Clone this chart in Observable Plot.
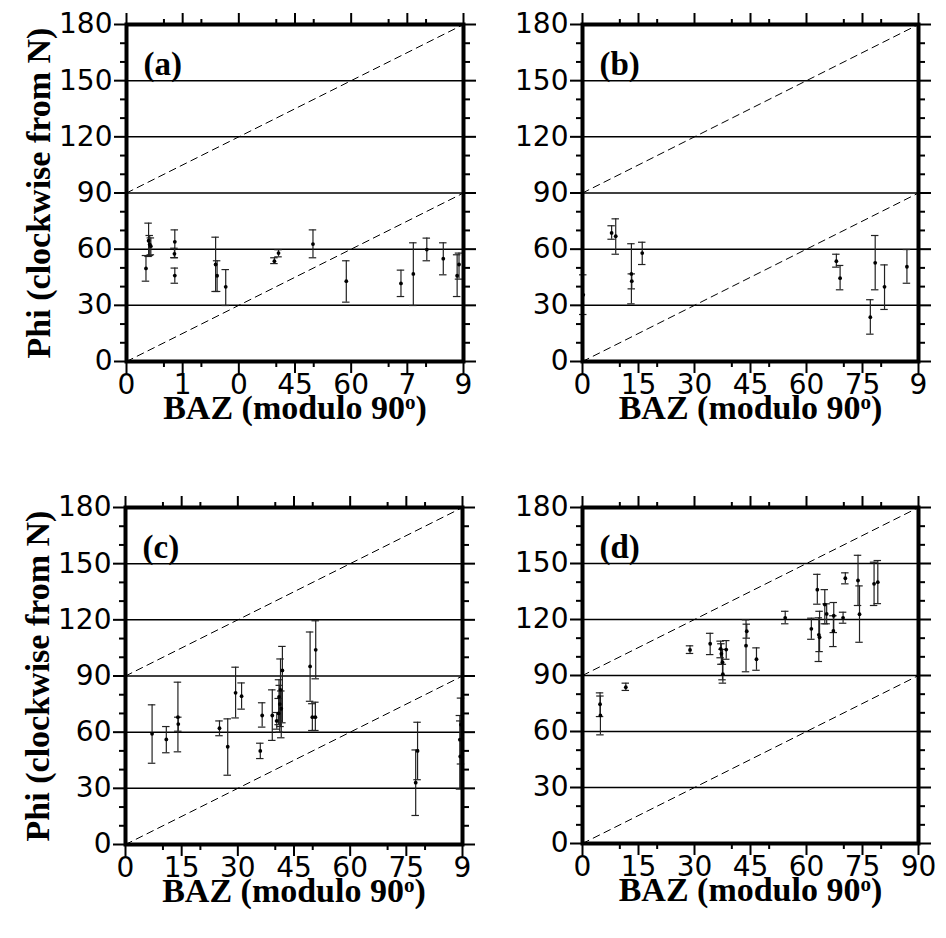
<!DOCTYPE html>
<html>
<head>
<meta charset="utf-8">
<script src="https://cdn.jsdelivr.net/npm/d3@7"></script>
<script src="https://cdn.jsdelivr.net/npm/@observablehq/plot@0.6"></script>
<style>
  html, body { margin: 0; padding: 0; background: white; }
  #chart { position: relative; width: 946px; height: 938px; overflow: hidden; background: white; }
</style>
</head>
<body>
<div id="chart"></div>
<script>
// ---- tick values and labels ----
const majorX = [0, 15, 30, 45, 60, 75, 90];
const minorX = [10, 20, 40, 50, 70, 80];
const majorY = [0, 30, 60, 90, 120, 150, 180];
const minorY = [10, 20, 40, 50, 70, 80, 100, 110, 130, 140, 160, 170];
const gridY = [30, 60, 90, 120, 150];
const labelsA = ["0", "1", "0", "45", "60", "7", "9"];
const labelsB = ["0", "15", "30", "45", "60", "75", "9"];
const labelsC = ["0", "15", "30", "45", "60", "75", "9"];
const labelsD = ["0", "15", "30", "45", "60", "75", "90"];
const yTitle = "Phi (clockwise from N)";
const xTitle = "BAZ (modulo 90º)";

// reference lines phi = baz and phi = baz + 90
const diagLower = [{baz: 0, phi: 0}, {baz: 90, phi: 90}];
const diagUpper = [{baz: 0, phi: 90}, {baz: 90, phi: 180}];

// ---- measurements: [BAZ, phi, phi low, phi high] ----
const panelA = [
  [5.2, 49.7, 42.9, 56.6],
  [5.9, 64.5, 56.1, 73.9],
  [6.2, 62.5, 56.6, 67.3],
  [6.5, 61.6, 57.0, 66.0],
  [12.9, 63.9, 55.4, 70.3],
  [12.8, 57.5, 55.5, 60.5],
  [12.9, 45.9, 41.8, 49.9],
  [23.8, 51.8, 37.4, 66.4],
  [24.2, 45.8, 37.4, 53.8],
  [26.5, 39.9, 29.9, 49.1],
  [39.5, 53.6, 52.3, 55.4],
  [40.6, 57.9, 55.9, 59.7],
  [49.8, 62.7, 55.4, 70.3],
  [58.7, 42.9, 31.7, 53.8],
  [73.3, 41.7, 34.7, 48.8],
  [76.6, 46.8, 29.9, 63.4],
  [80.2, 59.8, 53.8, 65.9],
  [84.6, 54.9, 46.3, 63.4],
  [88.3, 45.8, 34.7, 57.0],
  [88.8, 51.8, 44.0, 57.9]
];
const panelB = [
  [0.2, 35.6, 25.1, 46.3],
  [7.8, 68.7, 65.3, 72.5],
  [8.9, 66.9, 57.3, 76.2],
  [13.1, 46.8, 30.8, 62.9],
  [13.2, 42.9, 38.8, 46.8],
  [16.0, 57.9, 51.8, 63.7],
  [68.0, 53.6, 50.4, 57.3],
  [69.0, 44.5, 38.3, 51.3],
  [77.1, 23.7, 14.6, 33.0],
  [78.4, 52.7, 38.3, 67.3],
  [80.9, 39.9, 27.8, 51.6],
  [86.9, 50.6, 41.8, 59.8]
];
const panelC = [
  [7.1, 59.1, 43.4, 74.6],
  [10.9, 56.1, 49.0, 63.0],
  [14.0, 68.0, 49.5, 86.7],
  [14.1, 64.3, 60.5, 68.0],
  [25.1, 62.1, 58.1, 66.0],
  [27.3, 52.2, 37.0, 67.1],
  [29.4, 81.0, 67.6, 94.7],
  [31.0, 79.2, 72.3, 86.3],
  [36.0, 50.0, 45.9, 54.1],
  [36.5, 68.9, 62.7, 75.7],
  [39.2, 68.9, 55.6, 82.6],
  [40.4, 66.0, 61.6, 70.5],
  [41.9, 93.0, 65.0, 105.8],
  [41.4, 82.6, 63.0, 99.1],
  [41.0, 78.8, 66.0, 88.0],
  [41.2, 75.0, 60.0, 85.0],
  [41.6, 72.5, 57.0, 82.0],
  [40.9, 70.0, 64.0, 78.0],
  [49.3, 95.1, 76.5, 113.5],
  [50.8, 104.0, 88.5, 119.5],
  [49.9, 68.0, 60.9, 75.2],
  [50.7, 68.0, 60.9, 76.0],
  [78.0, 50.0, 34.6, 65.3],
  [77.5, 33.0, 15.5, 50.5],
  [89.6, 64.0, 43.0, 78.2],
  [89.3, 56.0, 29.7, 68.9],
  [89.4, 47.0, 29.7, 66.0]
];
const panelD = [
  [4.7, 74.6, 68.0, 80.7],
  [4.8, 68.6, 58.2, 79.0],
  [11.6, 83.7, 82.0, 85.9],
  [28.8, 103.7, 101.8, 105.9],
  [34.2, 107.0, 101.2, 112.6],
  [37.0, 104.3, 99.5, 108.4],
  [37.2, 101.6, 96.0, 107.0],
  [37.5, 97.1, 87.7, 104.0],
  [37.6, 90.7, 85.9, 96.0],
  [38.5, 103.9, 98.7, 108.7],
  [43.8, 106.0, 92.0, 119.8],
  [44.0, 113.7, 110.0, 117.5],
  [46.6, 98.7, 92.8, 104.8],
  [54.3, 120.9, 117.7, 124.4],
  [61.3, 115.0, 109.4, 120.7],
  [62.9, 136.0, 128.2, 144.2],
  [63.3, 111.8, 97.5, 120.9],
  [63.5, 110.5, 102.8, 124.4],
  [64.9, 128.0, 117.7, 136.0],
  [65.4, 123.0, 117.7, 128.4],
  [67.3, 122.0, 113.0, 129.1],
  [67.2, 113.9, 105.5, 122.0],
  [69.8, 120.9, 118.0, 123.9],
  [70.4, 142.1, 139.1, 145.0],
  [73.8, 140.9, 127.5, 154.4],
  [74.2, 122.8, 107.8, 138.0],
  [78.1, 139.1, 127.5, 150.7],
  [79.1, 140.0, 128.5, 151.6]
];

const panels = [
  {data: panelA, labels: labelsA, tag: "(a)", showY: true,  left: 0,   top: 0,   mL: 126, mR: 10, mT: 24, mB: 108},
  {data: panelB, labels: labelsB, tag: "(b)", showY: false, left: 473, top: 0,   mL: 109, mR: 28, mT: 24, mB: 108},
  {data: panelC, labels: labelsC, tag: "(c)", showY: true,  left: 0,   top: 469, mL: 125, mR: 11, mT: 38, mB: 94},
  {data: panelD, labels: labelsD, tag: "(d)", showY: false, left: 473, top: 469, mL: 109, mR: 28, mT: 38, mB: 95}
];

const CAP = 1.0;               // half-width of error bar caps (BAZ units)
const tickFont = "DejaVu Sans, Liberation Sans, Arial, sans-serif";
const titleFont = "Liberation Serif, Times New Roman, serif";
const tickSizePx = 28;
const titleSizePx = 34;

const chart = document.getElementById("chart");

for (const p of panels) {
  const marks = [
    Plot.ruleY(gridY, {stroke: "black", strokeWidth: 1.5}),
    Plot.line(diagLower, {x: "baz", y: "phi", stroke: "black", strokeWidth: 1, strokeDasharray: "7,5"}),
    Plot.line(diagUpper, {x: "baz", y: "phi", stroke: "black", strokeWidth: 1, strokeDasharray: "7,5"}),
    Plot.ruleX(p.data, {x: d => d[0], y1: d => d[2], y2: d => d[3], stroke: "#222", strokeWidth: 1.2}),
    Plot.ruleY(p.data, {y: d => d[2], x1: d => d[0] - CAP, x2: d => d[0] + CAP, stroke: "#222", strokeWidth: 1.2}),
    Plot.ruleY(p.data, {y: d => d[3], x1: d => d[0] - CAP, x2: d => d[0] + CAP, stroke: "#222", strokeWidth: 1.2}),
    Plot.dot(p.data, {x: d => d[0], y: d => d[1], r: 1.9, fill: "black", stroke: null}),
    // axes: bottom / top
    Plot.axisX({anchor: "bottom", ticks: majorX, tickSize: 12, tickPadding: 1, strokeWidth: 2,
      tickFormat: d => p.labels[majorX.indexOf(d)], fontSize: tickSizePx, fontFamily: tickFont, fill: "black", label: null}),
    Plot.axisX({anchor: "bottom", ticks: minorX, tickSize: 6, strokeWidth: 2, tickFormat: () => "", label: null}),
    Plot.axisX({anchor: "top", ticks: majorX, tickSize: 12, strokeWidth: 2, tickFormat: () => "", label: null}),
    Plot.axisX({anchor: "top", ticks: minorX, tickSize: 6, strokeWidth: 2, tickFormat: () => "", label: null}),
    // axes: left / right
    Plot.axisY({anchor: "left", ticks: majorY, tickSize: 12, tickPadding: 2, strokeWidth: 2,
      fontSize: tickSizePx, fontFamily: tickFont, fill: "black", label: null}),
    Plot.axisY({anchor: "left", ticks: minorY, tickSize: 6, strokeWidth: 2, tickFormat: () => "", label: null}),
    Plot.axisY({anchor: "right", ticks: majorY, tickSize: 12, strokeWidth: 2, tickFormat: () => "", label: null}),
    Plot.axisY({anchor: "right", ticks: minorY, tickSize: 6, strokeWidth: 2, tickFormat: () => "", label: null}),
    Plot.frame({stroke: "black", strokeWidth: 4}),
    // panel tag
    Plot.text([p.tag], {text: d => d, frameAnchor: "top-left", dx: 17, dy: 27, lineAnchor: "top", textAnchor: "start",
      fontFamily: titleFont, fontWeight: "bold", fontSize: 33, fill: "black"}),
    // x title
    Plot.text([xTitle], {text: d => d, frameAnchor: "bottom", dy: 47, lineAnchor: "middle", textAnchor: "middle",
      fontFamily: titleFont, fontWeight: "bold", fontSize: titleSizePx, fill: "black"})
  ];
  if (p.showY) {
    marks.push(Plot.text([yTitle], {text: d => d, frameAnchor: "left", dx: -87, rotate: -90,
      lineAnchor: "middle", textAnchor: "middle",
      fontFamily: titleFont, fontWeight: "bold", fontSize: titleSizePx, fill: "black"}));
  }
  const svg = Plot.plot({
    width: 473,
    height: 469,
    marginLeft: p.mL,
    marginRight: p.mR,
    marginTop: p.mT,
    marginBottom: p.mB,
    x: {domain: [0, 90], label: null},
    y: {domain: [0, 180], label: null},
    style: {fontFamily: tickFont, fontSize: tickSizePx + "px", color: "black", background: "transparent", overflow: "visible"},
    marks
  });
  svg.style.position = "absolute";
  svg.style.left = p.left + "px";
  svg.style.top = p.top + "px";
  svg.style.maxWidth = "none";
  const sel = d3.select(svg);
  // drop the empty label texts of the tick-only axes
  sel.selectAll("text").filter(function () { return this.textContent === ""; }).remove();
  // superscript "o" in the BAZ title
  sel.selectAll("text").each(function () {
    if (this.textContent === xTitle) {
      const t = d3.select(this);
      t.text(null);
      t.append("tspan").text("BAZ (modulo 90");
      t.append("tspan").attr("dy", "-0.5em").attr("font-size", "0.62em").text("o");
      t.append("tspan").attr("dy", "0.31em").text(")");
    }
  });
  chart.appendChild(svg);
}
</script>
</body>
</html>
